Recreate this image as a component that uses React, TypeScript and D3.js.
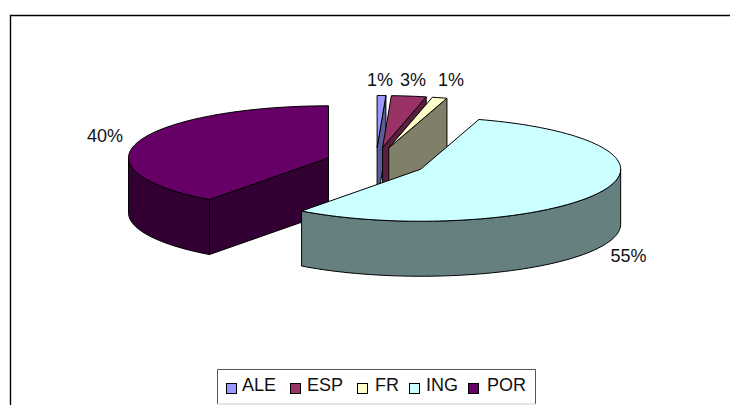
import React from 'react';
import * as d3 from 'd3';

const categories = ['ALE', 'ESP', 'FR', 'ING', 'POR'];
const shares = [0.7, 2.8, 1.2, 55.45, 39.85];
const topColors = ['#9999FF', '#993366', '#FFFFCC', '#CCFFFF', '#660066'];
const sideColors = ['#5C5C99', '#5C1F3D', '#80806A', '#668080', '#330033'];
// excel paints the big slices in this order so ING ends up on top
const drawOrder = [4, 0, 1, 2, 3];
const labelPos = [[380, 79.5], [413, 79.5], [451, 79.5], [628.5, 256], [105, 136]];
const legendSwatchX = [226, 290, 357, 409, 468];
const legendTextX = [242, 307, 375, 426, 487];

const width = 730;
const height = 405;
const rx = 200;
const ry = 52;
const depth = 55;
const explode = 50;
const squash = 0.3;
const cx0 = 376;
const cy0 = 162.5;

const pie = d3.pie<number>().sort(null).value(d => d);
const slices = pie(shares);
const pct = d3.format('.0f');

function slicePaths(i: number) {
  const s = slices[i];
  const mid = (s.startAngle + s.endAngle) / 2;
  const cx = cx0 + explode * Math.sin(mid);
  const cy = cy0 - explode * squash * Math.cos(mid);
  const pt = (a: number, dy = 0): [number, number] => [cx + rx * Math.sin(a), cy - ry * Math.cos(a) + dy];
  const line = d3.line();
  const step = Math.PI / 90;
  const sweep = (a0: number, a1: number) => {
    const n = Math.max(1, Math.ceil((a1 - a0) / step));
    return d3.range(n + 1).map(k => a0 + ((a1 - a0) * k) / n);
  };
  const top = line([[cx, cy], ...sweep(s.startAngle, s.endAngle).map(a => pt(a))]) + 'Z';
  const walls: string[] = [];
  const wall = (a: number) =>
    line([[cx, cy], pt(a), pt(a, depth), [cx, cy + depth]]) + 'Z';
  if (Math.sin(s.startAngle) < -1e-6) walls.push(wall(s.startAngle));
  if (Math.sin(s.endAngle) > 1e-6) walls.push(wall(s.endAngle));
  const r0 = Math.max(s.startAngle, Math.PI / 2);
  const r1 = Math.min(s.endAngle, (3 * Math.PI) / 2);
  let rim: string | null = null;
  if (r1 > r0) {
    const angles = sweep(r0, r1);
    rim = line([...angles.map(a => pt(a)), ...angles.slice().reverse().map(a => pt(a, depth))]) + 'Z';
  }
  return { top, walls, rim };
}

export default function App() {
  return (
    <svg width={width} height={height} style={{ position: 'absolute', left: 0, top: 0 }} fontFamily="Liberation Sans, Arial, sans-serif">
      <rect width={width} height={height} fill="#fff" />
      <path d="M10.5,405V15.5H730" fill="none" stroke="#000" strokeWidth={1.4} />
      {drawOrder.map(i => {
        const p = slicePaths(i);
        return (
          <g key={categories[i]} stroke="#000" strokeWidth={1} strokeLinejoin="round">
            {p.walls.map((d, k) => <path key={k} d={d} fill={sideColors[i]} />)}
            {p.rim && <path d={p.rim} fill={sideColors[i]} />}
            <path d={p.top} fill={topColors[i]} />
          </g>
        );
      })}
      {categories.map((c, i) => (
        <text key={c} x={labelPos[i][0]} y={labelPos[i][1]} fontSize={18} textAnchor="middle" dominantBaseline="central" fill="#111">
          {pct(shares[i])}%
        </text>
      ))}
      <path d="M217.5,404V369.5H535.5V404" fill="#fff" stroke="#555" />
      <path d="M217.5,404H535.5" fill="none" stroke="#ccc" />
      {categories.map((c, i) => (
        <g key={c}>
          <rect x={legendSwatchX[i] + 0.5} y={383.5} width={10} height={10} fill={topColors[i]} stroke="#000" />
          <text x={legendTextX[i]} y={385} fontSize={18} dominantBaseline="central" fill="#111">{c}</text>
        </g>
      ))}
    </svg>
  );
}
